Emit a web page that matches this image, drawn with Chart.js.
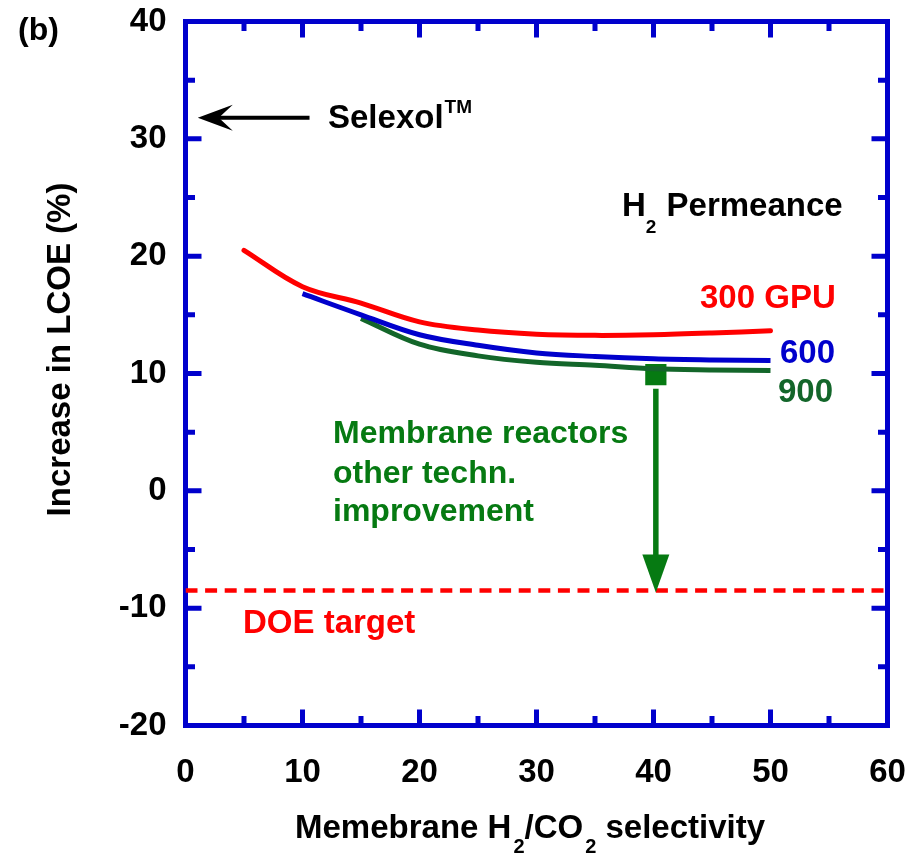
<!DOCTYPE html>
<html>
<head>
<meta charset="utf-8">
<script src="https://cdn.jsdelivr.net/npm/chart.js@4.4.0/dist/chart.umd.min.js"></script>
<style>
  html, body { margin: 0; padding: 0; background: #ffffff; }
  #wrap { width: 917px; height: 855px; }
</style>
</head>
<body>
<div id="wrap"><canvas id="chart" width="917" height="855"></canvas></div>
<script>
// LCOE increase vs. membrane H2/CO2 selectivity, for three H2 permeances
const selectivity300 = [5, 10, 15, 20, 25, 30, 35, 40, 45, 50];
const lcoe300        = [20.5, 17.4, 16.0, 14.4, 13.7, 13.35, 13.25, 13.3, 13.45, 13.65];

const selectivity600 = [10, 15, 20, 25, 30, 35, 40, 45, 50];
const lcoe600        = [16.8, 15.0, 13.3, 12.4, 11.75, 11.45, 11.25, 11.15, 11.1];

const selectivity900 = [15, 20, 25, 30, 35, 40, 45, 50];
const lcoe900        = [14.7, 12.5, 11.5, 10.95, 10.7, 10.4, 10.3, 10.25];

// DOE target and the Selexol reference level
const doeTarget   = [-8.5];
const selexolLcoe = [31.8];
const selexolArrowX = [10.6, 1.05];   // tail, tip

// improvement step from the 900 GPU / selectivity 40 case down to the target
const improvementX = [40.2];
const improvementY = [9.9];

const xRange = [0, 60];
const yRange = [-20, 40];
const tickStep = 10;
const minorStep = 5;

const FONT = '"Liberation Sans", Arial, Helvetica, sans-serif';
const AXIS_BLUE = '#0000cc';
const RED = '#ff0000';
const BLUE = '#0000cc';
const DARK_GREEN = '#13662a';
const GREEN = '#067a12';

const toXY = (xs, ys) => xs.map((x, i) => ({ x: x, y: ys[i] }));

// draw a run of text pieces, some raised or lowered (sub/superscripts)
function drawRich(ctx, parts, x, y, color) {
  ctx.save();
  ctx.fillStyle = color;
  ctx.textAlign = 'left';
  ctx.textBaseline = 'alphabetic';
  let cx = x;
  parts.forEach(p => {
    ctx.font = 'bold ' + p.size + 'px ' + FONT;
    cx += (p.gap || 0);
    ctx.fillText(p.t, cx, y + (p.dy || 0));
    cx += ctx.measureText(p.t).width;
  });
  ctx.restore();
}

// keep the plot frame where the layout padding puts it
function fixSize(prop, value) {
  return s => {
    s[prop] = value;
    s.paddingLeft = 0; s.paddingRight = 0; s.paddingTop = 0; s.paddingBottom = 0;
  };
}

// inward major/minor tick marks on all four sides, plus a closed frame
const frameTicks = {
  id: 'frameTicks',
  beforeDatasetsDraw(chart) {
    const { ctx, chartArea: a, scales } = chart;
    const xs = scales.x, ys = scales.y;
    ctx.save();
    ctx.strokeStyle = AXIS_BLUE;
    ctx.lineWidth = 5;
    ctx.lineCap = 'butt';
    ctx.beginPath();
    for (let v = xRange[0] + minorStep; v < xRange[1]; v += minorStep) {
      const len = (v % tickStep === 0) ? 16 : 9.5;
      const px = xs.getPixelForValue(v);
      ctx.moveTo(px, a.bottom); ctx.lineTo(px, a.bottom - len);
      ctx.moveTo(px, a.top);    ctx.lineTo(px, a.top + len);
    }
    for (let v = yRange[0] + minorStep; v < yRange[1]; v += minorStep) {
      const len = (v % tickStep === 0) ? 16 : 9.5;
      const py = ys.getPixelForValue(v);
      ctx.moveTo(a.left, py);  ctx.lineTo(a.left + len, py);
      ctx.moveTo(a.right, py); ctx.lineTo(a.right - len, py);
    }
    ctx.stroke();
    ctx.lineJoin = 'miter';
    ctx.strokeRect(a.left, a.top, a.right - a.left, a.bottom - a.top);
    ctx.restore();
  }
};

// arrows, labels and axis titles
const annotations = {
  id: 'annotations',
  afterDatasetsDraw(chart) {
    const { ctx, scales } = chart;
    const xs = scales.x, ys = scales.y;

    // improvement arrow: square marker down to the DOE target
    const ax = xs.getPixelForValue(improvementX[0]);
    const top = ys.getPixelForValue(improvementY[0]);
    const tip = ys.getPixelForValue(doeTarget[0]);
    ctx.save();
    ctx.strokeStyle = GREEN;
    ctx.fillStyle = GREEN;
    ctx.lineWidth = 5.5;
    ctx.beginPath();
    ctx.moveTo(ax, top + 14);
    ctx.lineTo(ax, tip - 34);
    ctx.stroke();
    ctx.beginPath();
    ctx.moveTo(ax - 13.5, tip - 36);
    ctx.lineTo(ax + 13.5, tip - 36);
    ctx.lineTo(ax, tip + 2);
    ctx.closePath();
    ctx.fill();
    ctx.restore();

    // Selexol arrow pointing at the left axis
    const sy = ys.getPixelForValue(selexolLcoe[0]);
    const tail = xs.getPixelForValue(selexolArrowX[0]);
    const head = xs.getPixelForValue(selexolArrowX[1]);
    ctx.save();
    ctx.strokeStyle = '#000';
    ctx.fillStyle = '#000';
    ctx.lineWidth = 4;
    ctx.beginPath();
    ctx.moveTo(tail, sy);
    ctx.lineTo(head + 20, sy);
    ctx.stroke();
    ctx.beginPath();
    ctx.moveTo(head, sy);
    ctx.lineTo(head + 35, sy - 13);
    ctx.lineTo(head + 21, sy);
    ctx.lineTo(head + 35, sy + 13);
    ctx.closePath();
    ctx.fill();
    ctx.restore();

    // text
    drawRich(ctx, [{ t: '(b)', size: 32 }], 18, 40, '#000');
    drawRich(ctx, [{ t: 'Selexol', size: 33 }, { t: 'TM', size: 19, dy: -15, gap: 1 }], 328, 128, '#000');
    drawRich(ctx, [{ t: 'H', size: 33 }, { t: '2', size: 19, dy: 17 }, { t: ' Permeance', size: 33, gap: 1 }], 622, 216, '#000');
    drawRich(ctx, [{ t: '300 GPU', size: 33 }], 700, 308, RED);
    drawRich(ctx, [{ t: '600', size: 33 }], 780, 363, BLUE);
    drawRich(ctx, [{ t: '900', size: 33 }], 778, 402, DARK_GREEN);
    drawRich(ctx, [{ t: 'Membrane reactors', size: 32 }], 333, 443, GREEN);
    drawRich(ctx, [{ t: 'other techn.', size: 32 }], 333, 483, GREEN);
    drawRich(ctx, [{ t: 'improvement', size: 32 }], 333, 521, GREEN);
    drawRich(ctx, [{ t: 'DOE target', size: 33 }], 243, 633, RED);

    // x-axis title
    drawRich(ctx, [
      { t: 'Memebrane H', size: 33 },
      { t: '2', size: 20, dy: 15, gap: 2 },
      { t: '/CO', size: 33 },
      { t: '2', size: 20, dy: 15, gap: 2 },
      { t: ' selectivity', size: 33 }
    ], 295, 838, '#000');

    // y-axis title
    ctx.save();
    ctx.translate(70, 349.5);
    ctx.rotate(-Math.PI / 2);
    ctx.font = 'bold 33px ' + FONT;
    ctx.fillStyle = '#000';
    ctx.textAlign = 'center';
    ctx.textBaseline = 'alphabetic';
    ctx.fillText('Increase in LCOE (%)', 0, 0);
    ctx.restore();
  }
};

const tickFont = { family: FONT, size: 33, weight: 'bold' };

new Chart(document.getElementById('chart'), {
  type: 'line',
  data: {
    datasets: [
      {
        label: '300 GPU',
        data: toXY(selectivity300, lcoe300),
        borderColor: RED, borderWidth: 5, pointRadius: 0,
        tension: 0.35, borderCapStyle: 'round', borderJoinStyle: 'round'
      },
      {
        label: '600 GPU',
        data: toXY(selectivity600, lcoe600),
        borderColor: BLUE, borderWidth: 5, pointRadius: 0,
        tension: 0.35, borderCapStyle: 'butt', borderJoinStyle: 'round'
      },
      {
        label: '900 GPU',
        data: toXY(selectivity900, lcoe900),
        borderColor: DARK_GREEN, borderWidth: 5, pointRadius: 0,
        tension: 0.35, borderCapStyle: 'butt', borderJoinStyle: 'round'
      },
      {
        label: 'DOE target',
        data: xRange.map(x => ({ x: x, y: doeTarget[0] })),
        borderColor: RED, borderWidth: 4.5, borderDash: [12, 7.6],
        pointRadius: 0, tension: 0
      },
      {
        label: 'Improvement start',
        type: 'scatter',
        data: toXY(improvementX, improvementY),
        pointStyle: 'rect', pointRadius: 15,
        backgroundColor: GREEN, borderColor: GREEN, borderWidth: 0
      }
    ]
  },
  options: {
    responsive: false,
    animation: false,
    devicePixelRatio: 1,
    layout: { padding: { top: 21.5, right: 29.5, left: 0, bottom: 0 } },
    plugins: { legend: { display: false }, tooltip: { enabled: false } },
    scales: {
      x: {
        type: 'linear', position: 'bottom', min: xRange[0], max: xRange[1],
        ticks: { stepSize: tickStep, padding: 28, font: tickFont, color: '#000', maxRotation: 0, autoSkip: false },
        grid: { display: false, drawTicks: false },
        border: { display: true, color: AXIS_BLUE, width: 5 },
        afterFit: fixSize('height', 129.5)
      },
      y: {
        type: 'linear', position: 'left', min: yRange[0], max: yRange[1],
        ticks: { stepSize: tickStep, padding: 19, font: tickFont, color: '#000' },
        grid: { display: false, drawTicks: false },
        border: { display: true, color: AXIS_BLUE, width: 5 },
        afterFit: fixSize('width', 185.5)
      },
      xTop: {
        type: 'linear', position: 'top', min: xRange[0], max: xRange[1],
        ticks: { display: false }, grid: { display: false, drawTicks: false },
        border: { display: true, color: AXIS_BLUE, width: 5 },
        afterFit: fixSize('height', 0)
      },
      yRight: {
        type: 'linear', position: 'right', min: yRange[0], max: yRange[1],
        ticks: { display: false }, grid: { display: false, drawTicks: false },
        border: { display: true, color: AXIS_BLUE, width: 5 },
        afterFit: fixSize('width', 0)
      }
    }
  },
  plugins: [frameTicks, annotations]
});
</script>
</body>
</html>
